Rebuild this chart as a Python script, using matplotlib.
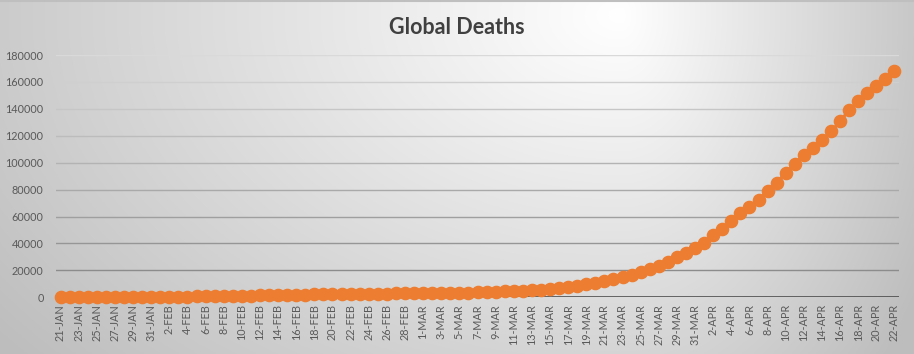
import numpy as np
import pandas as pd
import matplotlib
matplotlib.use("Agg")
import matplotlib.pyplot as plt

# fechas 21-ene .. 22-abr (93 dias)
fechas = pd.date_range("2020-01-21", "2020-04-22", freq="D")
etiquetas = [f"{d.day}-{d.strftime('%b').upper()}" for d in fechas]

# muertes globales acumuladas
muertes_ene = [17, 18, 26, 42, 56, 82, 131, 133, 171, 213, 259]
muertes_feb = [362, 426, 492, 564, 634, 719, 806, 906, 1013, 1113, 1118, 1371,
               1523, 1666, 1770, 1868, 2007, 2122, 2247, 2251, 2458, 2469, 2629,
               2708, 2770, 2814, 2872, 2941, 2996]
muertes_mar = [3085, 3160, 3254, 3348, 3460, 3558, 3802, 3988, 4262, 4615, 4720,
               4900, 5200, 5500, 5900, 6700, 7400, 8400, 9600, 10800, 12100,
               13300, 14800, 16500, 19000, 20700, 23200, 26400, 30100, 33000,
               36300]
muertes_abr = [40400, 46100, 50400, 56700, 62700, 67100, 72600, 79000, 85200,
               92600, 99300, 105900, 111100, 117000, 123200, 130600, 139200,
               145600, 151900, 157000, 162200, 168400]
muertes = muertes_ene + muertes_feb + muertes_mar + muertes_abr

yticks = list(range(0, 180001, 20000))

W, H = 914, 354
fig = plt.figure(figsize=(W / 100, H / 100), dpi=100)

# fondo con degradado radial (blanco arriba al centro, gris en los bordes)
bg = fig.add_axes([0, 0, 1, 1], zorder=-10)
yy, xx = np.mgrid[0:H, 0:W]
cx, cy = 620, 15
sx = np.where(xx < cx, 720.0, 320.0)
d = np.sqrt(((xx - cx) / sx) ** 2 + ((yy - cy) / 480.0) ** 2)
val = (255 - 60 * np.clip(d, 0, 1.1)) / 255.0
bg.imshow(np.dstack([val, val, val]), aspect="auto", extent=(0, W, H, 0))
bg.set_xlim(0, W)
bg.set_ylim(H, 0)
bg.axis("off")
bg.plot([0, W], [0.5, 0.5], color="#bfbfbf", lw=1.5)

left, right = 56 / W, 899 / W
bottom, top = 1 - 297.3 / H, 1 - 55 / H
ax = fig.add_axes([left, bottom, right - left, top - bottom])
ax.set_facecolor("none")

x = np.arange(len(muertes))
ax.plot(x, muertes, color="#ED7D31", lw=2.2, marker="o", markersize=8.8,
        markeredgecolor="#ED7D31", zorder=3, clip_on=False)

# lineas de cuadricula: mas claras arriba, mas oscuras abajo
for i, t in enumerate(yticks[1:]):
    frac = i / (len(yticks) - 2)
    g = 0.55 + 0.30 * frac
    ax.axhline(t, color=(g, g, g), lw=1.0, zorder=1)
ax.axhline(0, color="#404040", lw=1.8, zorder=2)

ax.set_xlim(-0.5, len(muertes) - 0.5)
ax.set_ylim(0, 180000)
ax.set_yticks(yticks)
ax.set_yticklabels([str(t) for t in yticks])
ax.set_xticks(x[::2])
ax.set_xticklabels(etiquetas[::2], rotation=90, ha="center", va="top")
ax.tick_params(axis="both", length=0, labelsize=7.8, colors="#595959")
ax.tick_params(axis="y", pad=9)
ax.tick_params(axis="x", pad=5)
for lbl in ax.get_xticklabels() + ax.get_yticklabels():
    lbl.set_fontfamily("Lato")
for s in ax.spines.values():
    s.set_visible(False)

fig.text(0.5, 1 - 27 / H, "Global Deaths", ha="center", va="center",
         fontsize=15.5, fontweight="bold", color="#404040", fontfamily="Lato")

fig.savefig("out.png", dpi=100)
